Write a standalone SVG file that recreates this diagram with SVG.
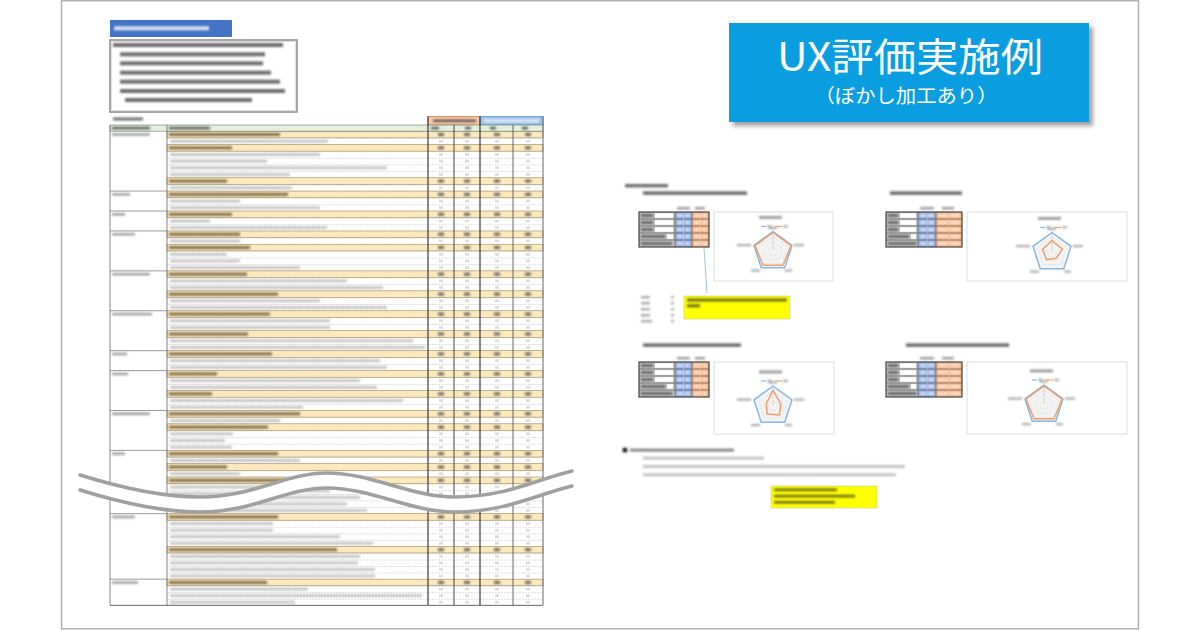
<svg xmlns="http://www.w3.org/2000/svg" width="1200" height="630" viewBox="0 0 1200 630">
<defs>
<style>
.frame{fill:#fff;stroke:#b3b3b3;stroke-width:1.5}
.dk{fill:#333;opacity:.7}
.yt{fill:#5a4826;opacity:.75}
.yr{fill:#fbe8bd;stroke:#9c8a5a;stroke-width:.6}
.nt{fill:#c2c2c2}
.cl{fill:#a0a0a0}
.cat{stroke:#808080;stroke-width:.8}
.chart{fill:#fff;stroke:#dcdcdc;stroke-width:1}
.grid{fill:none;stroke:#dedede;stroke-width:.5}
.blue{fill:none;stroke:#86b7e8;stroke-width:1.5;stroke-linejoin:round}
.orng{fill:none;stroke:#ef9f6c;stroke-width:1.5;stroke-linejoin:round}
.ttl{font-family:"Noto Sans CJK JP","Noto Sans",sans-serif;fill:#fff}
.yb{fill:#ffff00;stroke:#c9c98f;stroke-width:.6}
</style>
<filter id="b" x="-20%" y="-100%" width="140%" height="300%"><feGaussianBlur stdDeviation="0.85"/></filter>
<filter id="sh" x="-10%" y="-10%" width="125%" height="130%"><feGaussianBlur stdDeviation="2"/></filter>
<pattern id="plA" x="0" y="131.2" width="3" height="6.65" patternUnits="userSpaceOnUse"><rect width="2" height=".6" fill="#c9c9c9"/></pattern>
<pattern id="plB" x="0" y="487.45" width="3" height="6.55" patternUnits="userSpaceOnUse"><rect width="2" height=".6" fill="#c9c9c9"/></pattern>
<pattern id="pnA" x="428" y="131.2" width="115" height="6.65" patternUnits="userSpaceOnUse"><g fill="#d8d8d8"><rect x="11" y="2.2" width="4" height="2.4"/><rect x="37" y="2.2" width="4" height="2.4"/><rect x="67" y="2.2" width="4" height="2.4"/><rect x="98" y="2.2" width="4" height="2.4"/></g></pattern>
<pattern id="pnB" x="428" y="487.45" width="115" height="6.55" patternUnits="userSpaceOnUse"><g fill="#d8d8d8"><rect x="11" y="2.2" width="4" height="2.4"/><rect x="37" y="2.2" width="4" height="2.4"/><rect x="67" y="2.2" width="4" height="2.4"/><rect x="98" y="2.2" width="4" height="2.4"/></g></pattern>
<g id="yn" fill="#555" opacity=".85"><rect x="438" y="1.8" width="6" height="3"/><rect x="464" y="1.8" width="6" height="3"/><rect x="494" y="1.8" width="6" height="3"/><rect x="525" y="1.8" width="6" height="3"/></g>
<clipPath id="cb"><path d="M80,490 C125,504 165,512 200,512 C255,512 285,488 327,488 C372,488 410,512 455,512 C505,512 535,495 572,486 L572,620 L80,620 Z"/></clipPath>
<g id="tA">
<rect width="36" height="35" fill="#c0c0c0"/>
<g fill="#fff"><rect x="16" y="1.2" width="18" height="4.6"/><rect x="16" y="8.2" width="18" height="4.6"/><rect x="16" y="15.2" width="18" height="4.6"/><rect x="28" y="22.2" width="6" height="4.6"/></g>
<rect x="36" width="17" height="35" fill="#8faadc"/>
<rect x="53" width="17" height="35" fill="#f4b183"/>
<g filter="url(#b)">
<g fill="#333" opacity=".7"><rect x="2" y="2.2" width="12" height="2.6"/><rect x="2" y="9.2" width="12" height="2.6"/><rect x="2" y="16.2" width="12" height="2.6"/><rect x="2" y="23.2" width="24" height="2.6"/><rect x="2" y="30.2" width="31" height="2.6"/></g>
<g fill="#fff" opacity=".8"><rect x="38" y="2.3" width="6" height="2.4"/><rect x="46" y="2.3" width="5" height="2.4"/><rect x="38" y="9.3" width="6" height="2.4"/><rect x="46" y="9.3" width="5" height="2.4"/><rect x="38" y="16.3" width="6" height="2.4"/><rect x="46" y="16.3" width="5" height="2.4"/><rect x="38" y="23.3" width="6" height="2.4"/><rect x="46" y="23.3" width="5" height="2.4"/><rect x="38" y="30.3" width="6" height="2.4"/><rect x="46" y="30.3" width="5" height="2.4"/>
<rect x="55" y="2.3" width="6" height="2.4"/><rect x="63" y="2.3" width="5" height="2.4"/><rect x="55" y="9.3" width="6" height="2.4"/><rect x="63" y="9.3" width="5" height="2.4"/><rect x="55" y="16.3" width="6" height="2.4"/><rect x="63" y="16.3" width="5" height="2.4"/><rect x="55" y="23.3" width="6" height="2.4"/><rect x="63" y="23.3" width="5" height="2.4"/><rect x="55" y="30.3" width="6" height="2.4"/><rect x="63" y="30.3" width="5" height="2.4"/></g>
<g fill="#999"><rect x="38" y="-5" width="13" height="2.4"/><rect x="56" y="-5" width="10" height="2.4"/></g>
</g>
<path d="M0 7H70M0 14H70M0 21H70M0 28H70M36 0V35M53 0V35" stroke="#555" stroke-width=".6"/>
<path d="M44.5 0V35M61.5 0V35" stroke="#fff" stroke-width=".5" opacity=".6"/>
<rect width="70" height="35" fill="none" stroke="#444" stroke-width="1.2"/>
</g>
<g id="tB">
<rect width="32" height="35" fill="#c0c0c0"/>
<g fill="#fff"><rect x="14" y="1.2" width="16" height="4.6"/><rect x="14" y="8.2" width="16" height="4.6"/><rect x="14" y="15.2" width="16" height="4.6"/><rect x="25" y="22.2" width="5" height="4.6"/></g>
<rect x="32" width="18" height="35" fill="#8faadc"/>
<rect x="50" width="26" height="35" fill="#f4b183"/>
<g filter="url(#b)">
<g fill="#333" opacity=".7"><rect x="2" y="2.2" width="10" height="2.6"/><rect x="2" y="9.2" width="10" height="2.6"/><rect x="2" y="16.2" width="10" height="2.6"/><rect x="2" y="23.2" width="21" height="2.6"/><rect x="2" y="30.2" width="28" height="2.6"/></g>
<g fill="#fff" opacity=".8"><rect x="34" y="2.3" width="6" height="2.4"/><rect x="42" y="2.3" width="6" height="2.4"/><rect x="34" y="9.3" width="6" height="2.4"/><rect x="42" y="9.3" width="6" height="2.4"/><rect x="34" y="16.3" width="6" height="2.4"/><rect x="42" y="16.3" width="6" height="2.4"/><rect x="34" y="23.3" width="6" height="2.4"/><rect x="42" y="23.3" width="6" height="2.4"/><rect x="34" y="30.3" width="6" height="2.4"/><rect x="42" y="30.3" width="6" height="2.4"/>
<rect x="52" y="2.3" width="10" height="2.4"/><rect x="64" y="2.3" width="10" height="2.4"/><rect x="52" y="9.3" width="10" height="2.4"/><rect x="64" y="9.3" width="10" height="2.4"/><rect x="52" y="16.3" width="10" height="2.4"/><rect x="64" y="16.3" width="10" height="2.4"/><rect x="52" y="23.3" width="10" height="2.4"/><rect x="64" y="23.3" width="10" height="2.4"/><rect x="52" y="30.3" width="10" height="2.4"/><rect x="64" y="30.3" width="10" height="2.4"/></g>
<g fill="#999"><rect x="34" y="-5" width="14" height="2.4"/><rect x="56" y="-5" width="12" height="2.4"/></g>
</g>
<path d="M0 7H76M0 14H76M0 21H76M0 28H76M32 0V35M50 0V35" stroke="#555" stroke-width=".6"/>
<path d="M41 0V35M63 0V35" stroke="#fff" stroke-width=".5" opacity=".6"/>
<rect width="76" height="35" fill="none" stroke="#444" stroke-width="1.2"/>
</g>
<g id="cd">
<polygon points="0,-20 19.02,-6.18 11.76,16.18 -11.76,16.18 -19.02,-6.18" fill="#f3f3f3" stroke="#dcdcdc" stroke-width=".6"/>
<polygon class="grid" points="0,-15 14.27,-4.64 8.82,12.14 -8.82,12.14 -14.27,-4.64"/>
<polygon class="grid" points="0,-10 9.51,-3.09 5.88,8.09 -5.88,8.09 -9.51,-3.09"/>
<polygon class="grid" points="0,-5 4.76,-1.55 2.94,4.05 -2.94,4.05 -4.76,-1.55"/>
<line x1="0" y1="-20" x2="0" y2="0" stroke="#9a9a9a" stroke-width=".6" stroke-dasharray="1 1"/>
<g filter="url(#b)">
<rect x="-14" y="-35.5" width="23" height="2.8" fill="#999"/>
<g fill="#aaa"><rect x="-6" y="-26.2" width="5" height="2.2"/><rect x="10" y="-26.2" width="5" height="2.2"/><rect x="-4" y="-24.5" width="8" height="2.2"/><rect x="21" y="-7.5" width="10" height="2.2"/><rect x="12" y="18" width="7" height="2.2"/><rect x="-22" y="18" width="9" height="2.2"/><rect x="-36" y="-7.5" width="14" height="2.2"/></g>
</g>
<line x1="-12" y1="-25" x2="-7" y2="-25" stroke="#86b7e8" stroke-width="1.2"/>
<line x1="2" y1="-25" x2="9" y2="-25" stroke="#ef9f6c" stroke-width="1.2"/>
</g>
</defs>

<rect class="frame" x="61.5" y="0.75" width="1077" height="628"/>

<g id="sheet-left">
<g id="step-header">
<rect x="110" y="20" width="122" height="17" fill="#4472c4"/>
<rect x="114" y="26.3" width="95" height="4" fill="#fff" opacity=".8" filter="url(#b)"/>
</g>
<g id="instructions">
<rect x="110" y="40" width="187" height="72" fill="#fff" stroke="#888" stroke-width="1.5"/>
<rect x="111.8" y="41.8" width="183.4" height="68.4" fill="none" stroke="#bbb" stroke-width=".5"/>
<g class="dk" filter="url(#b)">
<rect x="113" y="43" width="170" height="4"/>
<rect x="120" y="52.3" width="145" height="4"/>
<rect x="120" y="61.3" width="143" height="4"/>
<rect x="120" y="70.7" width="151" height="4"/>
<rect x="120" y="79.7" width="160" height="4"/>
<rect x="120" y="89" width="165" height="4"/>
<rect x="125" y="98" width="127" height="4"/>
</g>
</g>
<rect x="113" y="117.5" width="30" height="3" class="dk" filter="url(#b)"/>

<g id="result-table">
<rect x="110" y="125" width="433" height="480.35" fill="#fff"/>
<g id="segA">
<rect x="167" y="131.2" width="376" height="365.75" fill="url(#plA)"/>
<rect x="428" y="131.2" width="115" height="365.75" fill="url(#pnA)"/>
<g class="yr">
<rect x="167" y="131.2" width="376" height="6.65"/><rect x="167" y="144.5" width="376" height="6.65"/><rect x="167" y="177.75" width="376" height="6.65"/><rect x="167" y="191.05" width="376" height="6.65"/><rect x="167" y="211" width="376" height="6.65"/><rect x="167" y="230.95" width="376" height="6.65"/><rect x="167" y="244.25" width="376" height="6.65"/><rect x="167" y="270.85" width="376" height="6.65"/><rect x="167" y="290.8" width="376" height="6.65"/><rect x="167" y="310.75" width="376" height="6.65"/><rect x="167" y="330.7" width="376" height="6.65"/><rect x="167" y="350.65" width="376" height="6.65"/><rect x="167" y="370.6" width="376" height="6.65"/><rect x="167" y="390.55" width="376" height="6.65"/><rect x="167" y="410.5" width="376" height="6.65"/><rect x="167" y="423.8" width="376" height="6.65"/><rect x="167" y="450.4" width="376" height="6.65"/><rect x="167" y="463.7" width="376" height="6.65"/><rect x="167" y="477" width="376" height="6.65"/>
</g>
<g filter="url(#b)">
<g class="yt">
<rect x="169" y="133" width="111" height="3"/><rect x="169" y="146.3" width="63" height="3"/><rect x="169" y="179.55" width="58" height="3"/><rect x="169" y="192.85" width="119" height="3"/><rect x="169" y="212.8" width="63" height="3"/><rect x="169" y="232.75" width="71" height="3"/><rect x="169" y="246.05" width="81" height="3"/><rect x="169" y="272.65" width="78" height="3"/><rect x="169" y="292.6" width="109" height="3"/><rect x="169" y="312.55" width="101" height="3"/><rect x="169" y="332.5" width="79" height="3"/><rect x="169" y="352.45" width="103" height="3"/><rect x="169" y="372.4" width="48" height="3"/><rect x="169" y="392.35" width="43" height="3"/><rect x="169" y="412.3" width="131" height="3"/><rect x="169" y="425.6" width="99" height="3"/><rect x="169" y="452.2" width="109" height="3"/><rect x="169" y="465.5" width="58" height="3"/><rect x="169" y="478.8" width="118" height="3"/>
</g>
<use href="#yn" y="131.2"/><use href="#yn" y="144.5"/><use href="#yn" y="177.75"/><use href="#yn" y="191.05"/><use href="#yn" y="211"/><use href="#yn" y="230.95"/><use href="#yn" y="244.25"/><use href="#yn" y="270.85"/><use href="#yn" y="290.8"/><use href="#yn" y="310.75"/><use href="#yn" y="330.7"/><use href="#yn" y="350.65"/><use href="#yn" y="370.6"/><use href="#yn" y="390.55"/><use href="#yn" y="410.5"/><use href="#yn" y="423.8"/><use href="#yn" y="450.4"/><use href="#yn" y="463.7"/><use href="#yn" y="477"/>
<g class="nt">
<rect x="170" y="139.85" width="158" height="2.8"/><rect x="170" y="153.15" width="150" height="2.8"/><rect x="170" y="159.8" width="97" height="2.8"/><rect x="170" y="166.45" width="217" height="2.8"/><rect x="170" y="173.1" width="120" height="2.8"/><rect x="170" y="186.4" width="122" height="2.8"/><rect x="170" y="199.7" width="70" height="2.8"/><rect x="170" y="206.35" width="150" height="2.8"/><rect x="170" y="219.65" width="40" height="2.8"/><rect x="170" y="226.3" width="157" height="2.8"/><rect x="170" y="239.6" width="70" height="2.8"/><rect x="170" y="252.9" width="57" height="2.8"/><rect x="170" y="259.55" width="70" height="2.8"/><rect x="170" y="266.2" width="130" height="2.8"/><rect x="170" y="279.5" width="177" height="2.8"/><rect x="170" y="286.15" width="213" height="2.8"/><rect x="170" y="299.45" width="150" height="2.8"/><rect x="170" y="306.1" width="217" height="2.8"/><rect x="170" y="319.4" width="160" height="2.8"/><rect x="170" y="326.05" width="160" height="2.8"/><rect x="170" y="339.35" width="243" height="2.8"/><rect x="170" y="346" width="255" height="2.8"/><rect x="170" y="359.3" width="210" height="2.8"/><rect x="170" y="365.95" width="217" height="2.8"/><rect x="170" y="379.25" width="190" height="2.8"/><rect x="170" y="385.9" width="207" height="2.8"/><rect x="170" y="399.2" width="233" height="2.8"/><rect x="170" y="405.85" width="133" height="2.8"/><rect x="170" y="419.15" width="110" height="2.8"/><rect x="170" y="432.45" width="63" height="2.8"/><rect x="170" y="439.1" width="55" height="2.8"/><rect x="170" y="445.75" width="62" height="2.8"/><rect x="170" y="459.05" width="130" height="2.8"/><rect x="170" y="472.35" width="70" height="2.8"/><rect x="170" y="485.65" width="160" height="2.8"/><rect x="170" y="492.3" width="130" height="2.8"/>
</g>
<g class="cl">
<rect x="112" y="133.2" width="38" height="2.6"/><rect x="112" y="193.05" width="18" height="2.6"/><rect x="112" y="213" width="13" height="2.6"/><rect x="112" y="232.95" width="23" height="2.6"/><rect x="112" y="272.85" width="38" height="2.6"/><rect x="112" y="312.75" width="40" height="2.6"/><rect x="112" y="352.65" width="15" height="2.6"/><rect x="112" y="372.6" width="16" height="2.6"/><rect x="112" y="412.5" width="38" height="2.6"/><rect x="112" y="452.4" width="13" height="2.6"/>
</g>
</g>
<path class="cat" d="M110 191.05H167M110 211H167M110 230.95H167M110 270.85H167M110 310.75H167M110 350.65H167M110 370.6H167M110 410.5H167M110 450.4H167"/>
</g>
<g id="segB" clip-path="url(#cb)">
<rect x="110" y="487.45" width="433" height="117.9" fill="#fff"/>
<rect x="167" y="487.45" width="376" height="117.9" fill="url(#plB)"/>
<rect x="428" y="487.45" width="115" height="117.9" fill="url(#pnB)"/>
<g class="yr"><rect x="167" y="513.65" width="376" height="6.55"/><rect x="167" y="546.4" width="376" height="6.55"/><rect x="167" y="579.15" width="376" height="6.55"/></g>
<g filter="url(#b)">
<g class="yt"><rect x="169" y="515.45" width="109" height="3"/><rect x="169" y="548.2" width="168" height="3"/><rect x="169" y="580.95" width="98" height="3"/></g>
<use href="#yn" y="513.65"/><use href="#yn" y="546.4"/><use href="#yn" y="579.15"/>
<g class="nt">
<rect x="170" y="489.45" width="160" height="2.8"/><rect x="170" y="496" width="190" height="2.8"/><rect x="170" y="502.55" width="177" height="2.8"/><rect x="170" y="509.1" width="197" height="2.8"/><rect x="170" y="522.2" width="103" height="2.8"/><rect x="170" y="528.75" width="103" height="2.8"/><rect x="170" y="535.3" width="170" height="2.8"/><rect x="170" y="541.85" width="203" height="2.8"/><rect x="170" y="554.95" width="190" height="2.8"/><rect x="170" y="561.5" width="188" height="2.8"/><rect x="170" y="568.05" width="205" height="2.8"/><rect x="170" y="574.6" width="205" height="2.8"/><rect x="170" y="587.7" width="138" height="2.8"/><rect x="170" y="594.25" width="252" height="2.8"/><rect x="170" y="600.8" width="125" height="2.8"/>
</g>
<g class="cl"><rect x="112" y="515.65" width="23" height="2.6"/><rect x="112" y="581.15" width="26" height="2.6"/></g>
</g>
<path class="cat" d="M110 513.65H167M110 579.15H167"/>
</g>
<g id="table-frame">
<rect x="428" y="116.5" width="52" height="8.5" fill="#f8cbad" stroke="#c47a50" stroke-width=".8"/>
<rect x="480" y="116.5" width="63" height="8.5" fill="#9dc3e6" stroke="#5b8fc7" stroke-width=".8"/>
<rect x="110" y="125" width="433" height="6.2" fill="#e2efda" stroke="#777" stroke-width=".6"/>
<g filter="url(#b)" fill="#333" opacity=".75">
<rect x="433" y="119.5" width="43" height="2.6"/><rect x="484" y="119.5" width="55" height="2.6" fill="#fff"/>
<rect x="112" y="126.8" width="38" height="2.6"/><rect x="169" y="126.8" width="41" height="2.6"/>
<rect x="431" y="126.8" width="8" height="2.6"/><rect x="465" y="126.8" width="6" height="2.6"/><rect x="490" y="126.8" width="6" height="2.6"/><rect x="522" y="126.8" width="6" height="2.6"/>
</g>
<path d="M110 125V605.35M167 125V605.35" stroke="#777" stroke-width=".9"/>
<path d="M428 116.5V605.35M480 116.5V605.35" stroke="#2a2a2a" stroke-width="1.1"/>
<path d="M454 125V605.35" stroke="#444" stroke-width="1"/>
<path d="M513 125V605.35" stroke="#555" stroke-width=".9"/>
<path d="M543 116.5V605.35M110 605.35H543" stroke="#666" stroke-width="1"/>
</g>
</g>
<g id="break-wave">
<path d="M80,475 C125,489 165,497 200,497 C255,497 285,473 327,473 C372,473 410,497 455,497 C505,497 535,480 572,471 L572,486 C535,495 505,512 455,512 C410,512 372,488 327,488 C285,488 255,512 200,512 C165,512 125,504 80,490 Z" fill="#fff"/>
<g fill="none" stroke="#a0a0a0" stroke-width="3.5" stroke-linecap="round">
<path d="M80,475 C125,489 165,497 200,497 C255,497 285,473 327,473 C372,473 410,497 455,497 C505,497 535,480 572,471"/>
<path d="M80,490 C125,504 165,512 200,512 C255,512 285,488 327,488 C372,488 410,512 455,512 C505,512 535,495 572,486"/>
</g>
</g>
</g>

<g id="title">
<rect x="733" y="27" width="360" height="99" fill="#555" opacity=".55" filter="url(#sh)"/>
<rect x="729" y="23" width="360" height="99" fill="#0a9de0"/>
<text class="ttl" x="910" y="71" font-size="39" text-anchor="middle" textLength="266" lengthAdjust="spacingAndGlyphs">UX評価実施例</text>
<text class="ttl" x="906" y="103" font-size="19" text-anchor="middle" textLength="183" lengthAdjust="spacingAndGlyphs">（ぼかし加工あり）</text>
</g>

<g id="analysis">
<g filter="url(#b)" class="dk">
<rect x="625" y="184" width="43" height="3.4"/>
<rect x="643" y="191.3" width="104" height="3.6"/>
<rect x="890" y="191.3" width="72" height="3.6"/>
<rect x="643" y="343.3" width="98" height="3.6"/>
<rect x="906" y="343.3" width="103" height="3.6"/>
</g>
<g id="case1">
<use href="#tA" x="639" y="212"/>
<rect class="chart" x="714" y="212" width="119" height="69"/>
<use href="#cd" x="773" y="251.5"/>
<polygon class="blue" transform="translate(773 251.5)" points="0,-20 19.02,-6.18 11.76,16.18 -11.76,16.18 -19.02,-6.18"/>
<polygon class="orng" transform="translate(773 251.5)" points="0,-19 18.07,-5.87 10,13.75 -10,13.75 -18.07,-5.87"/>
</g>
<g id="case2">
<use href="#tB" x="886" y="212"/>
<rect class="chart" x="967" y="212" width="160" height="69"/>
<use href="#cd" x="1052" y="252.5"/>
<polygon class="blue" transform="translate(1052 252.5)" points="0,-20 19.02,-6.18 11.76,16.18 -11.76,16.18 -19.02,-6.18"/>
<polygon class="orng" transform="translate(1052 252.5)" points="0,-12 10.46,-3.4 4.12,5.66 -5.29,7.28 -9.51,-3.09"/>
</g>
<g id="case3">
<use href="#tA" x="639" y="362"/>
<rect class="chart" x="714" y="362" width="120" height="72"/>
<use href="#cd" x="773" y="406"/>
<polygon class="blue" transform="translate(773 406)" points="0,-20 19.02,-6.18 11.76,16.18 -11.76,16.18 -19.02,-6.18"/>
<polygon class="orng" transform="translate(773 406)" points="0,-16 7.61,-2.47 6.47,8.9 -5.88,8.09 -6.66,-2.16"/>
</g>
<g id="case4">
<use href="#tB" x="886" y="362"/>
<rect class="chart" x="967" y="362" width="160" height="72"/>
<use href="#cd" x="1044" y="405"/>
<polygon class="blue" transform="translate(1044 405)" points="0,-20 19.02,-6.18 11.76,16.18 -11.76,16.18 -19.02,-6.18"/>
<polygon class="orng" transform="translate(1044 405)" points="0,-19 18.07,-5.87 10,13.75 -10,13.75 -18.07,-5.87"/>
</g>
<g id="connectors">
<line x1="704" y1="248" x2="707" y2="293" stroke="#9cc3e6" stroke-width="1"/>
</g>
<g id="note1">
<rect class="yb" x="684" y="296" width="106" height="23"/>
<g filter="url(#b)" class="dk"><rect x="687" y="298.5" width="100" height="3"/><rect x="687" y="304.3" width="13" height="3"/></g>
</g>
<g id="scale-legend" filter="url(#b)" fill="#aaa">
<rect x="641" y="296" width="9" height="2.4"/><rect x="671" y="296" width="3" height="2.4"/>
<rect x="641" y="302" width="9" height="2.4"/><rect x="671" y="302" width="3" height="2.4"/>
<rect x="641" y="308" width="9" height="2.4"/><rect x="671" y="308" width="3" height="2.4"/>
<rect x="641" y="314" width="9" height="2.4"/><rect x="671" y="314" width="3" height="2.4"/>
<rect x="641" y="320" width="11" height="2.4"/><rect x="671" y="320" width="3" height="2.4"/>
</g>
<g id="findings" filter="url(#b)">
<circle cx="625" cy="450" r="2.6" fill="#222"/>
<rect x="630" y="448.6" width="104" height="3" fill="#888"/>
<g fill="#bbb"><rect x="643" y="456.8" width="121" height="2.6"/><rect x="643" y="465.2" width="262" height="2.6"/><rect x="643" y="473.5" width="253" height="2.6"/></g>
</g>
<g id="note2">
<rect class="yb" x="771" y="486" width="106" height="22"/>
<g filter="url(#b)" class="dk"><rect x="774" y="488.5" width="63" height="2.6"/><rect x="774" y="494.8" width="81" height="2.6"/><rect x="774" y="501" width="61" height="2.6"/></g>
</g>
</g>
</svg>
